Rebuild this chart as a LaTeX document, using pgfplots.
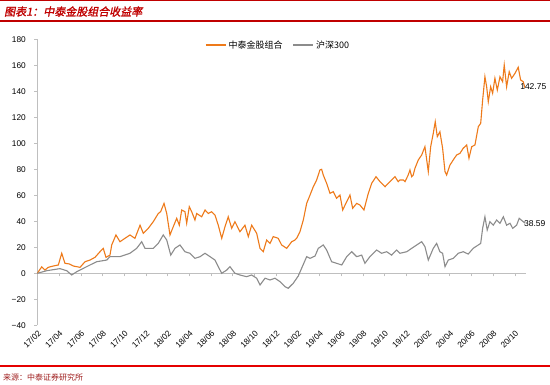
\documentclass[border=0pt]{standalone}
\usepackage{fontspec}
\setmainfont{Liberation Sans}
\newfontfamily\cjk{Noto Sans CJK SC}
\newfontfamily\cjktitle[FakeSlant=0.2,FakeBold=1.5]{Noto Sans CJK SC}
\usepackage{pgfplots}
\pgfplotsset{compat=1.18}
\definecolor{orangeline}{HTML}{EE7A1A}
\definecolor{grayline}{HTML}{8C8C8C}
\definecolor{titlered}{HTML}{C00000}
\definecolor{axisgray}{HTML}{BFBFBF}
\definecolor{srcred}{HTML}{A02020}
\begin{document}
\begin{tikzpicture}[x=1pt,y=1pt]
\path[use as bounding box] (0,0) rectangle (550,384);
\fill[white] (0,0) rectangle (550,384);
\draw[titlered, line width=0.8pt] (0,383.2) -- (550,383.2);
\draw[titlered, line width=1.5pt] (0,363) -- (550,363);
\node[anchor=west, inner sep=0, text=titlered, font=\cjktitle\fontsize{11}{11}\selectfont] at (4,372.5) {图表1：中泰金股组合收益率};
\draw[red!90!black, line width=1.2pt] (0,18) -- (550,18);
\node[anchor=west, inner sep=0, text=srcred, font=\cjk\fontsize{8}{8}\selectfont] at (3,7) {来源：中泰证券研究所};

\begin{axis}[
  scale only axis, width=488.2pt, height=286pt,
  at={(37.3pt,58.7pt)}, anchor=south west,
  xmin=0, xmax=45, ymin=-40, ymax=180,
  axis x line=middle, axis y line=none,
  x axis line style={axisgray, -},
  xtick={0,2,...,44}, xticklabels={},
  x tick style={axisgray}, tick align=outside, major tick length=3pt,
]
\addplot[draw=none] coordinates {(0,0)};
\end{axis}

\begin{axis}[
  scale only axis, width=488.2pt, height=286pt,
  at={(37.3pt,58.7pt)}, anchor=south west,
  xmin=0, xmax=45, ymin=-40, ymax=180,
  clip=false,
  axis y line*=left, axis x line*=bottom,
  x axis line style={draw=none},
  y axis line style={axisgray, -},
  ytick={-40,-20,...,180},
  yticklabels={−40,−20,0,20,40,60,80,100,120,140,160,180},
  xtick={0,2,...,44},
  xticklabels={17/02,17/04,17/06,17/08,17/10,17/12,18/02,18/04,18/06,18/08,18/10,18/12,19/02,19/04,19/06,19/08,19/10,19/12,20/02,20/04,20/06,20/08,20/10},
  x tick style={draw=none},
  y tick style={axisgray},
  tick align=outside, major tick length=3pt,
  ticklabel style={font=\fontsize{8.3}{9}\selectfont},
  xticklabel style={rotate=45, anchor=north east, inner sep=1pt},
  yticklabel style={xshift=-5pt},
  legend columns=2,
  legend style={draw=none, fill=none, at={(0.3435,0.980)}, anchor=west,
    font=\cjk\fontsize{9}{9}\selectfont, inner sep=0pt,
    /tikz/every even column/.append style={column sep=8pt}},
  legend image code/.code={\draw[#1, line width=1.5pt] (0pt,0pt) -- (20pt,0pt);},
]
\addplot[orangeline, line width=1.1pt] coordinates {
(0,0) (0.41,5) (0.71,2.5) (1.01,4.6) (1.47,5.6) (1.94,6.4) (2.25,15.4) (2.55,7.7) (2.95,7.2) (3.32,5.6) (3.94,4.6) (4.40,8.9) (4.86,10.2) (5.32,12.3) (5.78,16.6) (6.08,19.2) (6.33,12.3) (6.70,14) (6.86,21.8) (7.25,29.5) (7.62,24.3) (8.08,26.9) (8.54,29.5) (9.00,26.9) (9.47,37) (9.77,30.8) (10.23,34.6) (10.69,39.7) (11.15,46) (11.37,47.4) (11.68,53.8) (11.93,46) (12.23,29.5) (12.53,35.8) (12.85,42.3) (13.09,37) (13.31,48.7) (13.61,47.4) (13.77,38.5) (14.01,51.2) (14.23,47.4) (14.53,41) (14.69,46) (15.15,43.5) (15.46,48.7) (15.76,46) (16.07,47.4) (16.38,44.8) (16.68,37) (17.00,26.9) (17.30,35.8) (17.60,43.5) (17.92,34.6) (18.22,39.7) (18.68,32) (19.14,37) (19.45,28.2) (19.76,37) (20.22,30.8) (20.53,19.2) (20.83,16.6) (21.14,25.6) (21.45,23) (21.75,28.2) (22.21,26.9) (22.52,21.8) (22.99,19.2) (23.45,24.3) (23.75,25.6) (23.91,27) (24.21,32) (24.52,41) (24.83,53.8) (25.14,60.2) (25.44,66.6) (25.75,71.8) (26.05,79.5) (26.21,80) (26.36,75.6) (26.67,69.2) (26.98,61.5) (27.28,62.8) (27.59,57.7) (27.90,60.2) (28.15,48.7) (28.52,55.1) (28.82,60.2) (29.07,50) (29.44,53.8) (29.74,52.5) (30.11,48.7) (30.51,61.5) (30.82,69.2) (31.22,74.3) (31.59,70.5) (32.05,66.6) (32.51,70.5) (32.97,74.3) (33.27,70.5) (33.43,71.8) (33.73,71.8) (33.89,70.5) (34.19,75.6) (34.35,79.5) (34.51,74.3) (34.65,75.6) (34.81,80.8) (35.12,87.2) (35.43,91) (35.73,97.4) (36.04,78.2) (36.26,97.4) (36.50,107.7) (36.68,116.6) (36.87,105.1) (37.11,108.9) (37.36,96.2) (37.58,78.2) (37.73,75.6) (38.04,83.3) (38.34,87.2) (38.65,91) (38.96,92.3) (39.26,96.2) (39.58,98.7) (39.79,88.5) (40.04,97.4) (40.34,98.7) (40.65,112.8) (40.87,115.4) (41.05,133.3) (41.26,151.2) (41.42,143.5) (41.57,132) (41.79,143.5) (41.97,138.5) (42.18,150) (42.40,141) (42.65,151.2) (42.89,147.4) (43.04,160.2) (43.26,143.5) (43.50,155.1) (43.72,150) (44.03,153.8) (44.33,158.5) (44.55,148.7) (44.79,147.4) (44.95,142.75)
};
\addlegendentry{中泰金股组合}
\addplot[grayline, line width=1.1pt] coordinates {
(0,0) (0.87,2) (2.09,3.6) (2.71,2) (3.17,-1.3) (3.63,1.2) (4.24,3.8) (4.86,6.4) (5.47,8.9) (6.40,10.2) (6.70,12.8) (7.62,12.8) (8.54,15.4) (9.16,19.2) (9.62,24.3) (9.93,19.2) (10.69,19.2) (11.15,23) (11.61,29.5) (11.93,25.6) (12.30,14) (12.69,19.2) (13.15,21.8) (13.61,16.6) (14.07,15.4) (14.53,11.5) (15.00,12.8) (15.46,15.4) (15.92,12.8) (16.38,10.2) (16.68,5.1) (17.00,0) (17.46,2.5) (17.76,5.1) (18.22,0) (18.68,-1.3) (19.30,-2.6) (19.76,-1.3) (20.22,-3.8) (20.53,-9) (20.99,-3.8) (21.45,-5.1) (21.91,-3.8) (22.37,-6.4) (22.83,-10.3) (23.13,-11.5) (23.59,-7.7) (24.06,-2) (24.37,4) (24.83,12.8) (25.14,11.5) (25.60,13.3) (25.90,19.2) (26.36,21.8) (26.67,17.9) (27.13,8.9) (27.59,7.7) (28.06,6.4) (28.52,12.8) (28.98,16.6) (29.44,12.8) (29.90,14) (30.20,7.7) (30.66,12.8) (31.28,17.9) (31.74,15.4) (32.20,16.6) (32.66,14) (33.12,17.9) (33.43,15.4) (34.05,16.6) (34.51,19.2) (34.97,21.8) (35.43,24.3) (35.73,20.5) (36.04,10.2) (36.50,19.2) (36.81,23) (37.11,16.6) (37.36,15.4) (37.58,5.1) (37.88,10.2) (38.34,11.5) (38.80,15.4) (39.26,16.6) (39.72,14.8) (40.18,19.2) (40.65,21.8) (40.87,23) (41.05,34.6) (41.26,43.5) (41.47,33.3) (41.72,39.7) (42.03,37) (42.34,41) (42.65,38.5) (42.96,43.5) (43.26,37) (43.57,38.5) (43.82,34.6) (44.18,37) (44.42,42.3) (44.79,39.7) (44.95,38.59)
};
\addlegendentry{沪深300}
\node[anchor=west, inner sep=0, font=\fontsize{8.5}{9}\selectfont] at (axis cs:44.5,143.5) {142.75};
\node[anchor=west, inner sep=0, font=\fontsize{8.5}{9}\selectfont] at (axis cs:44.85,38.2) {38.59};
\end{axis}
\end{tikzpicture}
\end{document}
